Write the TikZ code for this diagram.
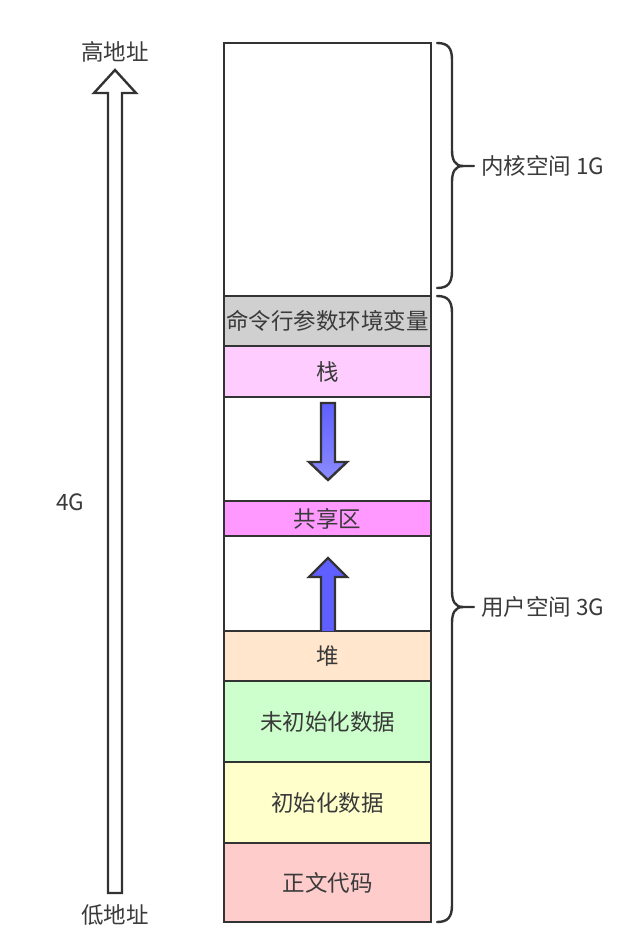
\documentclass[tikz,border=0pt]{standalone}
\usepackage{fontspec}
\setmainfont{Noto Sans CJK SC}
\definecolor{ink}{HTML}{333333}
\definecolor{txt}{HTML}{3A3A3A}
\definecolor{cgray}{HTML}{D0D0D0}
\definecolor{cpink}{HTML}{FFCCFF}
\definecolor{cmag}{HTML}{FF99FF}
\definecolor{cpeach}{HTML}{FFE6CC}
\definecolor{cgreen}{HTML}{CCFFCC}
\definecolor{cyellow}{HTML}{FFFFCC}
\definecolor{cred}{HTML}{FFCCCC}
\definecolor{cblue}{HTML}{5F5FFF}
\definecolor{cbluel}{HTML}{8C8CFF}
\begin{document}
\begin{tikzpicture}[x=1pt,y=-1pt,
  seg/.style={draw=ink, line width=2.6pt, minimum width=207pt, inner sep=0pt, outer sep=0pt, text=txt, font=\fontsize{22.5}{26}\selectfont},
  lbl/.style={text=txt, inner sep=0pt, font=\fontsize{22.5}{26}\selectfont},
  brace/.style={draw=ink, line width=2.4pt, line join=round, line cap=round},
  arr/.style={draw=ink, line width=2.4pt, line join=miter}]
\useasboundingbox (0,0) rectangle (643,942);
\fill[white] (0,0) rectangle (643,942);
% memory segments
\node[seg, fill=white, minimum height=253pt] (kern) at (327.5,169.5) {};
\node[seg, fill=cgray, minimum height=50pt] (env) at (327.5,321) {\raisebox{-3pt}{命令行参数环境变量}};
\node[seg, fill=cpink, minimum height=51pt] (stack) at (327.5,371.5) {\raisebox{-3pt}{栈}};
\node[seg, fill=white, minimum height=104pt] (gap1) at (327.5,449) {};
\node[seg, fill=cmag, minimum height=35pt] (shared) at (327.5,518.5) {共享区};
\node[seg, fill=white, minimum height=95pt] (gap2) at (327.5,583.5) {};
\node[seg, fill=cpeach, minimum height=50pt] (heap) at (327.5,656) {堆};
\node[seg, fill=cgreen, minimum height=81pt] (bss) at (327.5,721.5) {未初始化数据};
\node[seg, fill=cyellow, minimum height=81pt] (data) at (327.5,802.5) {初始化数据};
\node[seg, fill=cred, minimum height=79pt] (text) at (327.5,882.5) {正文代码};
% stack grows down
\path[arr, top color=cblue, bottom color=cbluel]
  (321,403) -- (335,403) -- (335,462) -- (347,462) -- (328,480) -- (309,462) -- (321,462) -- cycle;
% heap grows up
\path[arr, fill=cblue]
  (321,631) -- (321,577) -- (309,577) -- (328,558) -- (347,577) -- (335,577) -- (335,631);
% address arrow
\path[arr, fill=white]
  (108,893) -- (108,93) -- (94,93) -- (115,70) -- (136,93) -- (122,93) -- (122,893) -- cycle;
\node[lbl] (hi) at (115,52) {高地址};
\node[lbl] (lo) at (115,915) {低地址};
\node[lbl] (four) at (70,502) {4G};
% kernel brace
\coordinate (kt) at (474,166);
\draw[brace] (437,43) .. controls (448,43) and (452,48) .. (452,60) -- (452,150)
  .. controls (452,160) and (455,166) .. (463,166) -- (kt);
\draw[brace] (437,288) .. controls (448,288) and (452,283) .. (452,271) -- (452,182)
  .. controls (452,172) and (455,166) .. (463,166);
\node[lbl, anchor=west] (klbl) at (481,166) {内核空间 1G};
% user brace
\coordinate (ut) at (474,607);
\draw[brace] (437,296) .. controls (448,296) and (452,301) .. (452,313) -- (452,591)
  .. controls (452,601) and (455,607) .. (463,607) -- (ut);
\draw[brace] (437,922) .. controls (448,922) and (452,917) .. (452,905) -- (452,623)
  .. controls (452,613) and (455,607) .. (463,607);
\node[lbl, anchor=west] (ulbl) at (481,607) {用户空间 3G};
\end{tikzpicture}
\end{document}
